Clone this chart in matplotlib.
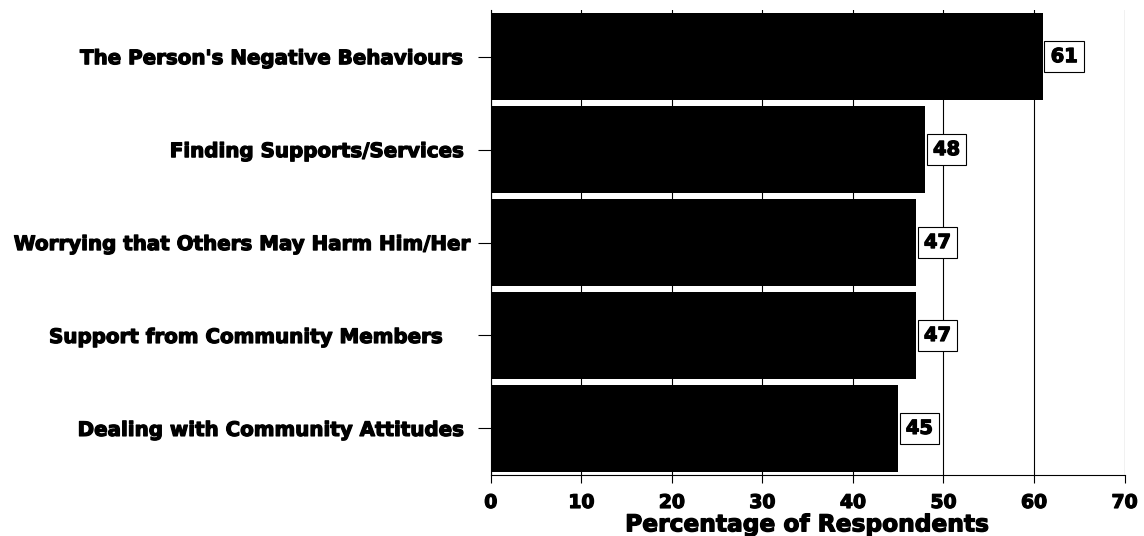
import matplotlib.pyplot as plt
import matplotlib.patheffects as pe

categories = ["The Person's Negative Behaviours ",
              "Finding Supports/Services ",
              "Worrying that Others May Harm Him/Her",
              "Support from Community Members    ",
              "Dealing with Community Attitudes "]
values = [61, 48, 47, 47, 45]

plt.rcParams['font.family'] = 'DejaVu Sans'
plt.rcParams['font.weight'] = 'bold'

# slight outline to thicken the bold glyphs
heavy = [pe.withStroke(linewidth=0.9, foreground='black')]

fig = plt.figure(figsize=(11.44, 5.36), dpi=100)
ax = fig.add_axes([0.429, 0.114, 0.554, 0.867])

pos = list(range(len(categories)))[::-1]
ax.barh(pos, values, height=0.94, color='black', zorder=2)

for p, v in zip(pos, values):
    t = ax.annotate(str(v), xy=(v, p), xytext=(5.5, 0), textcoords='offset points',
                    va='center', ha='left', fontsize=14, fontweight='bold', zorder=3,
                    bbox=dict(boxstyle='square,pad=0.32', fc='white', ec='black', lw=0.8))
    t.set_path_effects(heavy)

ax.set_xlim(0, 70)
ax.set_ylim(-0.5, 4.5)
ax.set_xticks(range(0, 71, 10))
ax.set_yticks(pos)
ax.set_yticklabels(categories, fontsize=14.3, fontweight='bold')
ax.tick_params(axis='y', length=9.5, width=0.8, pad=5, direction='out')
ax.tick_params(axis='x', length=6, width=0.8, labelsize=13.5, pad=7)
for lab in ax.get_xticklabels() + ax.get_yticklabels():
    lab.set_fontweight('bold')
    lab.set_path_effects(heavy)

ax.grid(axis='x', color='black', lw=0.8, zorder=1)
ax.set_axisbelow(True)
for s in ['top', 'right']:
    ax.spines[s].set_visible(False)
ax.spines['left'].set_linewidth(0.8)
ax.spines['bottom'].set_linewidth(0.8)

xl = ax.set_xlabel("Percentage of Respondents", fontsize=16.8, fontweight='bold', labelpad=1)
xl.set_path_effects(heavy)

fig.savefig('out.png', dpi=100)
